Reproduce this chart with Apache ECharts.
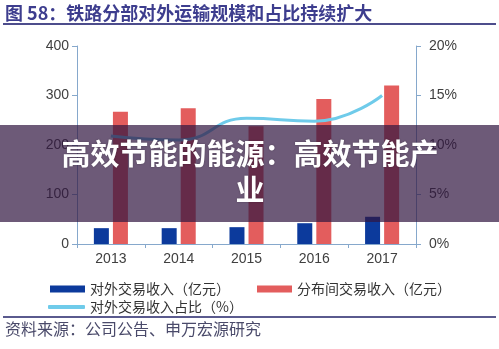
<!DOCTYPE html>
<html>
<head>
<meta charset="utf-8">
<style>
  html, body { margin: 0; padding: 0; background: #fff; }
  #chart { width: 499px; height: 349px; }
</style>
<script src="https://cdn.jsdelivr.net/npm/echarts@6/dist/echarts.min.js"></script>
</head>
<body>
<div id="chart"></div>
<script>
// Railway division: external transport revenue and share, 2013-2017
var years = ['2013', '2014', '2015', '2016', '2017'];
var externalRevenue = [32, 32, 34, 42, 55];        // 亿元
var interDivisionRevenue = [267, 274, 238, 293, 320]; // 亿元
var externalShare = [10.9, 10.5, 12.7, 12.4, 15.0];   // %
var leftTicks = { min: 0, max: 400, interval: 100 };
var rightTicks = { min: 0, max: 20, interval: 5 };

var names = ['对外交易收入（亿元）', '分布间交易收入（亿元）', '对外交易收入占比（%）'];
var cjk = '"Noto Sans CJK SC", "Noto Sans", sans-serif';
var latin = '"Liberation Sans", Arial, sans-serif';
var axisColor = '#86a8cc';

var chart = echarts.init(document.getElementById('chart'));

chart.setOption({
  animation: false,
  backgroundColor: '#ffffff',
  grid: { left: 77, right: 83, top: 46, bottom: 105 },
  legend: [
    {
      data: [names[0], names[1]],
      left: 45, top: 277,
      itemWidth: 35, itemHeight: 7, itemGap: 27,
      icon: 'rect',
      textStyle: { fontFamily: cjk, fontSize: 14, color: '#333' }
    },
    {
      data: [names[2]],
      left: 43, top: 295,
      itemWidth: 37, itemHeight: 4,
      icon: 'roundRect',
      textStyle: { fontFamily: cjk, fontSize: 14, color: '#333' }
    }
  ],
  xAxis: {
    type: 'category',
    data: years,
    axisLine: { lineStyle: { color: axisColor, width: 1 } },
    axisTick: { show: true, length: 4, lineStyle: { color: axisColor } },
    axisLabel: { fontFamily: latin, fontSize: 14, color: '#404040', margin: 8 }
  },
  yAxis: [
    {
      type: 'value',
      min: leftTicks.min, max: leftTicks.max, interval: leftTicks.interval,
      axisLine: { show: true, lineStyle: { color: axisColor } },
      axisTick: { show: true, length: 5, lineStyle: { color: axisColor } },
      splitLine: { show: false },
      axisLabel: { fontFamily: latin, fontSize: 14, color: '#404040', margin: 8 }
    },
    {
      type: 'value',
      min: rightTicks.min, max: rightTicks.max, interval: rightTicks.interval,
      position: 'right',
      axisLine: { show: true, lineStyle: { color: axisColor } },
      axisTick: { show: true, length: 5, lineStyle: { color: axisColor } },
      splitLine: { show: false },
      axisLabel: { fontFamily: latin, fontSize: 14, color: '#404040', margin: 13, formatter: '{value}%' }
    }
  ],
  series: [
    {
      name: names[0], type: 'bar', yAxisIndex: 0,
      data: externalRevenue, barWidth: 15, barGap: '27%',
      itemStyle: { color: '#0c3a9c' }
    },
    {
      name: names[1], type: 'bar', yAxisIndex: 0,
      data: interDivisionRevenue, barWidth: 15,
      itemStyle: { color: '#e35d5d' }
    },
    {
      name: names[2], type: 'line', yAxisIndex: 1,
      data: externalShare, smooth: true, showSymbol: false, symbol: 'none',
      lineStyle: { width: 3, color: '#6fcbea' },
      itemStyle: { color: '#6fcbea' }
    }
  ],
  graphic: [
    {
      type: 'text', left: 5, top: 4, z: 10,
      style: { text: '图 58：铁路分部对外运输规模和占比持续扩大', font: 'bold 18px ' + cjk, fill: '#3d3d8e' }
    },
    {
      type: 'rect', shape: { x: 3, y: 23, width: 493, height: 2 }, z: 10,
      style: { fill: '#4d4d8c' }
    },
    {
      type: 'rect', shape: { x: 3, y: 316, width: 493, height: 2 }, z: 10,
      style: { fill: '#5a5a8e' }
    },
    {
      type: 'text', left: 5, top: 321, z: 10,
      style: { text: '资料来源：公司公告、申万宏源研究', font: '16px ' + cjk, fill: '#4a4a6a' }
    },
    {
      type: 'rect', shape: { x: 0, y: 125, width: 499, height: 97 }, z: 100,
      style: { fill: 'rgba(50,22,65,0.71)' }
    },
    {
      type: 'text', x: 250, y: 172, z: 101,
      style: {
        text: '高效节能的能源：高效节能产\n业',
        font: 'bold 29px ' + cjk, fill: '#ffffff',
        align: 'center', verticalAlign: 'middle', lineHeight: 36,
        textShadowColor: 'rgba(0,0,0,0.3)', textShadowBlur: 2
      }
    }
  ]
});
</script>
</body>
</html>
